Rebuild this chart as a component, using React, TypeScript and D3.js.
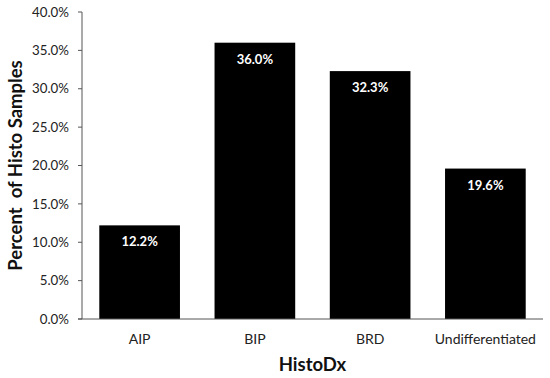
import React from 'react';
import * as d3 from 'd3';

const categories = ['AIP', 'BIP', 'BRD', 'Undifferentiated'];
const values = [12.2, 36.0, 32.3, 19.6];
const yTicks = [0, 5, 10, 15, 20, 25, 30, 35, 40];

const width = 550;
const height = 378;
const margin = { top: 12, right: 7, bottom: 59, left: 82 };
const font = 'Lato, "Open Sans", sans-serif';

export default function App() {
  const x = d3
    .scaleBand()
    .domain(categories)
    .range([margin.left, width - margin.right])
    .paddingInner(0.3)
    .paddingOuter(0.15);

  const y = d3
    .scaleLinear()
    .domain([0, 40])
    .range([height - margin.bottom, margin.top]);

  const y0 = y(0);

  return (
    <svg
      width={width}
      height={height}
      style={{ position: 'absolute', left: 0, top: 0, background: '#fff' }}
      fontFamily={font}
    >
      {/* bars */}
      {categories.map((c, i) => (
        <g key={c}>
          <rect
            x={x(c)}
            y={y(values[i])}
            width={x.bandwidth()}
            height={y0 - y(values[i])}
            fill="#000"
          />
          <text
            x={(x(c) as number) + x.bandwidth() / 2}
            y={y(values[i]) + 21}
            textAnchor="middle"
            fill="#fff"
            fontWeight="bold"
            fontSize={13}
          >
            {values[i].toFixed(1)}%
          </text>
        </g>
      ))}

      {/* y axis */}
      <line x1={margin.left} x2={margin.left} y1={y(40)} y2={y0} stroke="#555" strokeWidth={1} />
      {yTicks.map((t) => (
        <g key={t}>
          <line x1={margin.left - 4} x2={margin.left} y1={y(t)} y2={y(t)} stroke="#555" />
          <text
            x={margin.left - 13}
            y={y(t)}
            dy="0.35em"
            textAnchor="end"
            fontSize={13.3}
            fill="#222"
          >
            {t.toFixed(1)}%
          </text>
        </g>
      ))}

      {/* x axis */}
      <line x1={margin.left - 4} x2={width - margin.right} y1={y0} y2={y0} stroke="#555" />
      {categories.map((c) => (
        <text
          key={c}
          x={(x(c) as number) + x.bandwidth() / 2}
          y={y0 + 20}
          dy="0.35em"
          textAnchor="middle"
          fontSize={14}
          fill="#222"
        >
          {c}
        </text>
      ))}

      {/* titles */}
      <text
        x={(margin.left + width - margin.right) / 2}
        y={y0 + 46}
        dy="0.35em"
        textAnchor="middle"
        fontWeight="bold"
        fontSize={18.5}
        fill="#111"
      >
        HistoDx
      </text>
      <text
        transform={`translate(16,${(y(40) + y0) / 2}) rotate(-90)`}
        dy="0.35em"
        textAnchor="middle"
        fontWeight="bold"
        fontSize={18.5}
        fill="#111"
        style={{ whiteSpace: 'pre' }}
      >
        {'Percent  of Histo Samples'}
      </text>
    </svg>
  );
}
